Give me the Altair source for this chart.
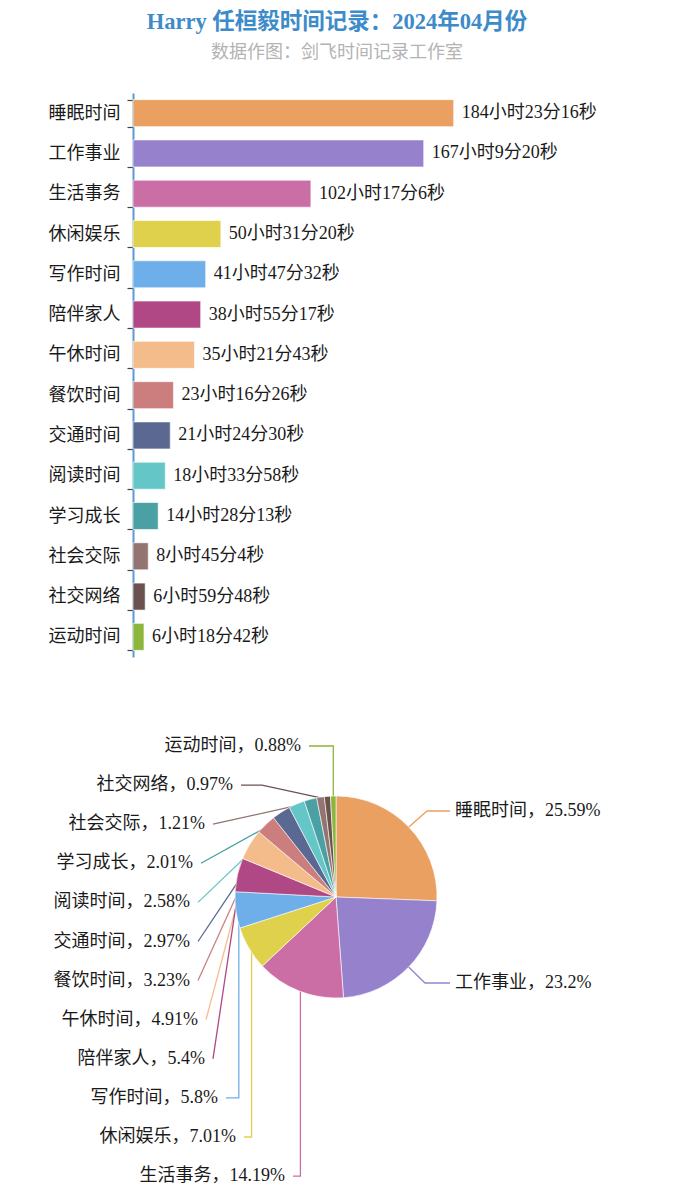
import math
import re
import altair as alt
import pandas as pd

# ---------------- data ----------------
categories = ["睡眠时间", "工作事业", "生活事务", "休闲娱乐", "写作时间", "陪伴家人", "午休时间",
              "餐饮时间", "交通时间", "阅读时间", "学习成长", "社会交际", "社交网络", "运动时间"]
durations = ["184小时23分16秒", "167小时9分20秒", "102小时17分6秒", "50小时31分20秒", "41小时47分32秒",
             "38小时55分17秒", "35小时21分43秒", "23小时16分26秒", "21小时24分30秒", "18小时33分58秒",
             "14小时28分13秒", "8小时45分4秒", "6小时59分48秒", "6小时18分42秒"]
percent_labels = ["25.59%", "23.2%", "14.19%", "7.01%", "5.8%", "5.4%", "4.91%",
                  "3.23%", "2.97%", "2.58%", "2.01%", "1.21%", "0.97%", "0.88%"]
colors = ["#E9A060", "#9682CC", "#CC6EA6", "#E0D14C", "#6EAFEA", "#B04886", "#F4BC8A",
          "#CC7E7E", "#5B6891", "#64C6C6", "#4AA0A2", "#937470", "#6B5250", "#8DB63C"]

title_text = "Harry 任桓毅时间记录：2024年04月份"
subtitle_text = "数据作图：剑飞时间记录工作室"


def to_hours(s):
    h, m, sec = map(int, re.match(r"(\d+)小时(\d+)分(\d+)秒", s).groups())
    return h + m / 60 + sec / 3600


hours = [to_hours(d) for d in durations]

FONT = "Liberation Serif, Noto Sans CJK SC"
FS = 18
color_scale = alt.Scale(domain=categories, range=colors)

# ---------------- bar chart ----------------
bar_df = pd.DataFrame({"cat": categories, "hours": hours, "label": durations})

y_enc = alt.Y(
    "cat:N", sort=categories,
    scale=alt.Scale(paddingInner=0.33, paddingOuter=0.165),
    axis=alt.Axis(title=None, labelFont=FONT, labelFontSize=FS, labelColor="#1a1a1a",
                  labelPadding=7, tickBand="extent", tickColor="#444444", tickSize=6,
                  tickWidth=1.2, domainColor="#5B9BD5", domainWidth=2,
                  minExtent=125, maxExtent=125),
)
x_enc = alt.X("hours:Q", scale=alt.Scale(domain=[0, 230], nice=False), axis=None)

bars = alt.Chart(bar_df).mark_bar(stroke="white", strokeWidth=1, strokeOpacity=0.6).encode(
    y=y_enc, x=x_enc,
    color=alt.Color("cat:N", scale=color_scale, legend=None),
)
bar_text = alt.Chart(bar_df).mark_text(align="left", baseline="middle", dx=8, font=FONT,
                                       fontSize=FS, color="#1a1a1a").encode(
    y=alt.Y("cat:N", sort=categories), x="hours:Q", text="label:N"
)
bar_chart = (bars + bar_text).properties(width=400, height=564)

# ---------------- pie chart ----------------
W, H = 533, 490
cx, cy, R = 203, 197, 101

pie_df = pd.DataFrame({"cat": categories, "hours": hours, "k": list(range(len(categories)))})
pie = alt.Chart(pie_df).mark_arc(radius=R, stroke="white", strokeWidth=0.6).encode(
    theta=alt.Theta("hours:Q", stack=True),
    order=alt.Order("k:Q"),
    color=alt.Color("cat:N", scale=color_scale, legend=None),
    x=alt.value(cx), y=alt.value(cy),
)

# label layout (offsets from pie centre, pixels)
left_order = ["运动时间", "社交网络", "社会交际", "学习成长", "阅读时间", "交通时间",
              "餐饮时间", "午休时间", "陪伴家人", "写作时间", "休闲娱乐", "生活事务"]
left_text_dx = [-35, -103, -131, -143, -146, -146, -146, -138, -131, -118, -100, -51]
left_elbow = ["v", -74, None, None, None, None, None, None, None, "v", "v", "v"]
right_layout = {"睡眠时间": (-86, 119, 91), "工作事业": (86, 119, 89)}

total = sum(hours)
slice_pt = {}
cum = 0.0
for c, h in zip(categories, hours):
    a = (cum + h / 2) / total * 2 * math.pi
    cum += h
    slice_pt[c] = (cx + (R - 3) * math.sin(a), cy - (R - 3) * math.cos(a))

pct = dict(zip(categories, percent_labels))
line_rows, text_rows = [], []
for i, c in enumerate(left_order):
    ly = cy - 151 + 39.1 * i
    tx = cx + left_text_dx[i]
    sx, sy = slice_pt[c]
    pts = [(tx + 8, ly)]
    e = left_elbow[i]
    if e == "v":
        pts.append((sx, ly))
    elif e is not None:
        pts.append((cx + e, ly))
    pts.append((sx, sy))
    for k, (px, py) in enumerate(pts):
        line_rows.append({"cat": c, "k": k, "px": px, "py": py})
    text_rows.append({"cat": c, "tx": tx, "ty": ly, "t": f"{c}，{pct[c]}", "side": "L"})
for c, (dy, tdx, edx) in right_layout.items():
    ly = cy + dy
    tx = cx + tdx
    sx, sy = slice_pt[c]
    pts = [(tx - 5, ly), (cx + edx, ly), (sx, sy)]
    for k, (px, py) in enumerate(pts):
        line_rows.append({"cat": c, "k": k, "px": px, "py": py})
    text_rows.append({"cat": c, "tx": tx, "ty": ly, "t": f"{c}，{pct[c]}", "side": "R"})

line_df = pd.DataFrame(line_rows)
text_df = pd.DataFrame(text_rows)

xs = alt.Scale(domain=[0, W], nice=False, zero=False)
ys = alt.Scale(domain=[0, H], nice=False, zero=False, reverse=True)

leaders = alt.Chart(line_df).mark_line(strokeWidth=1.3).encode(
    x=alt.X("px:Q", scale=xs, axis=None),
    y=alt.Y("py:Q", scale=ys, axis=None),
    detail="cat:N",
    order="k:Q",
    color=alt.Color("cat:N", scale=color_scale, legend=None),
)
left_text = alt.Chart(text_df[text_df.side == "L"]).mark_text(
    align="right", baseline="middle", font=FONT, fontSize=FS, color="#1a1a1a").encode(
    x=alt.X("tx:Q", scale=xs, axis=None), y=alt.Y("ty:Q", scale=ys, axis=None), text="t:N")
right_text = alt.Chart(text_df[text_df.side == "R"]).mark_text(
    align="left", baseline="middle", font=FONT, fontSize=FS, color="#1a1a1a").encode(
    x=alt.X("tx:Q", scale=xs, axis=None), y=alt.Y("ty:Q", scale=ys, axis=None), text="t:N")

pie_chart = alt.layer(leaders, pie, left_text, right_text).properties(width=W, height=H)

chart = alt.vconcat(
    bar_chart, pie_chart, spacing=43,
    title=alt.Title(text=title_text, subtitle=subtitle_text, font=FONT, fontSize=22.5,
                    fontWeight="bold", color="#3D8BC9", subtitleFont=FONT,
                    subtitleFontSize=18, subtitleColor="#B3B3B3", subtitlePadding=11,
                    anchor="middle", offset=22),
).properties(padding={"left": 0, "top": 2, "right": 0, "bottom": 0}).configure_view(strokeWidth=0)

chart.save("out.html", embed_options={"renderer": "svg", "actions": False})
